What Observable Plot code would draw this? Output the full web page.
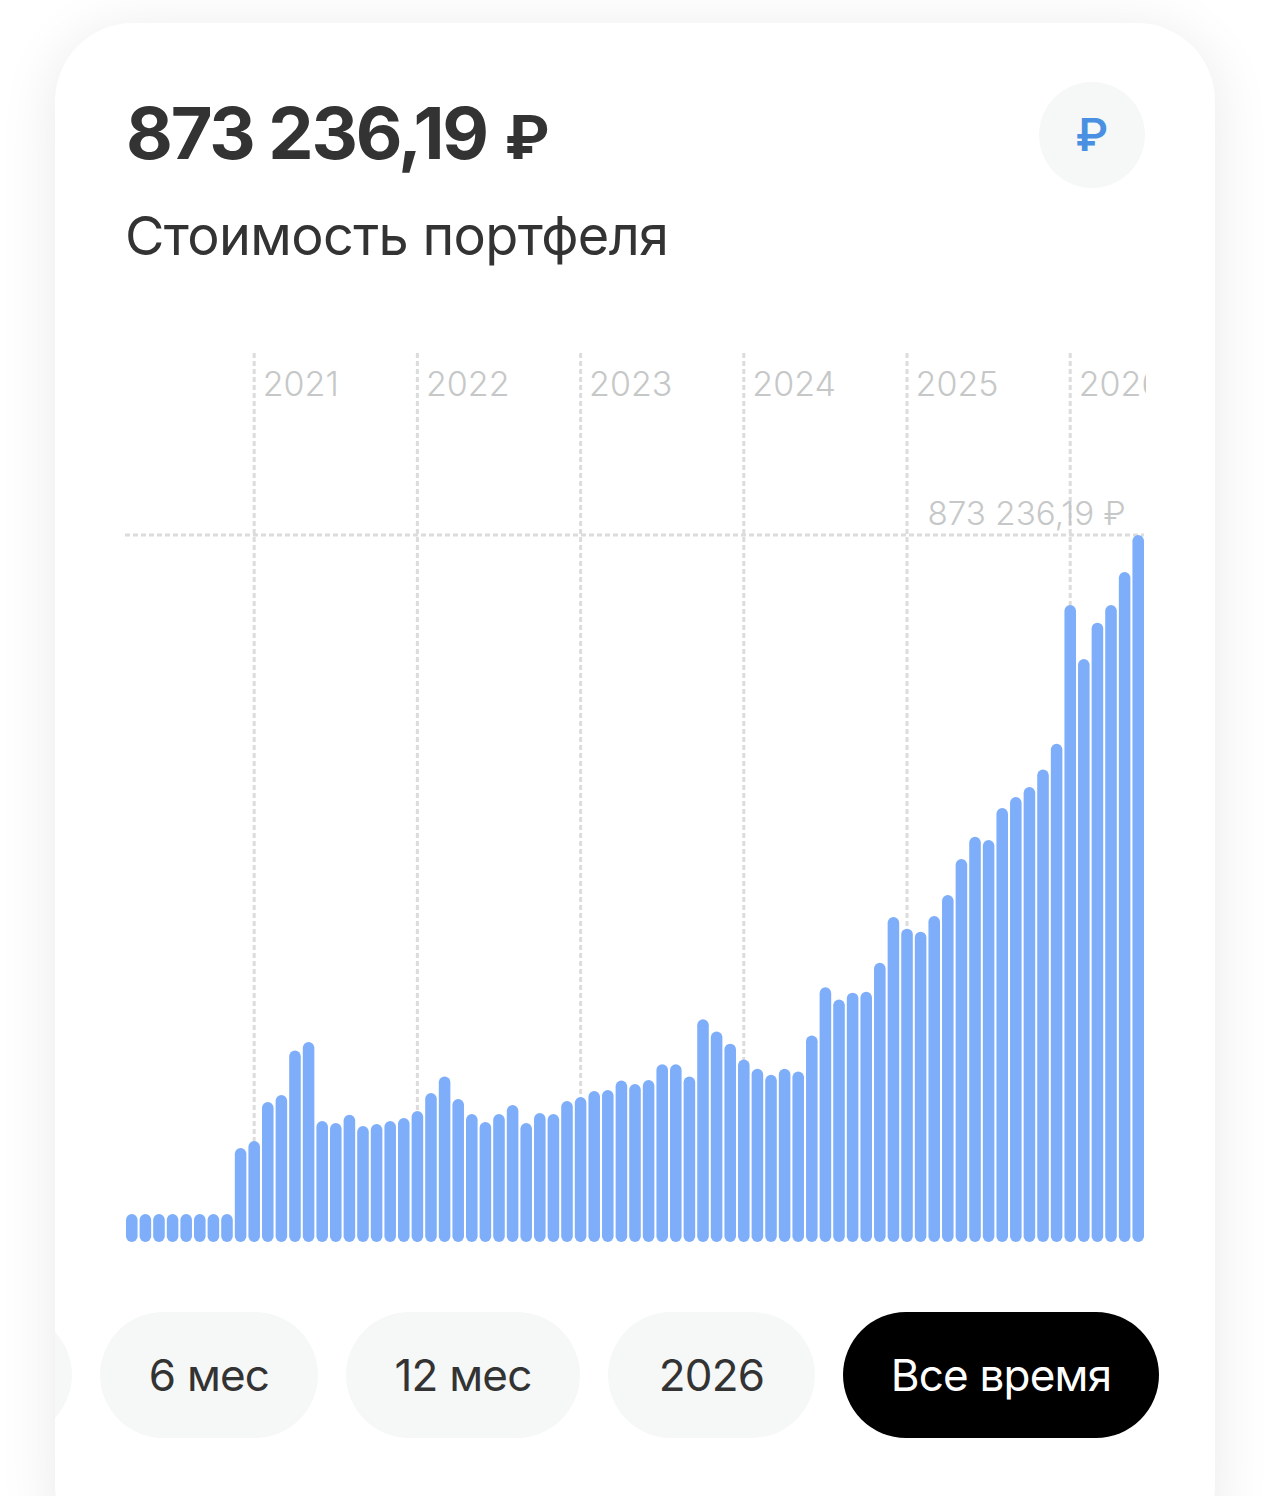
<!DOCTYPE html>
<html lang="ru">
<head>
<meta charset="utf-8">
<script src="https://cdn.jsdelivr.net/npm/d3@7"></script>
<script src="https://cdn.jsdelivr.net/npm/@observablehq/plot@0.6"></script>
<style>
html,body{margin:0;padding:0;background:#fff;}
body{width:1270px;height:1496px;overflow:hidden;position:relative;font-family:Inter,"Noto Sans",sans-serif;}
#card{position:absolute;left:55px;top:23px;width:1160px;height:1540px;background:#fff;border-radius:78px;box-shadow:0 8px 60px rgba(0,0,0,.09);overflow:hidden;}
.abs{position:absolute;white-space:nowrap;}
#total{left:71px;top:68px;font-size:72px;font-weight:700;color:#333;letter-spacing:-2.2px;line-height:84px;}
#total span{font-family:Roboto,Inter,sans-serif;font-size:62px;margin-left:4px;}
#sub{left:70px;top:181px;font-size:54px;font-weight:400;color:#333;letter-spacing:-.67px;line-height:64px;}
#cur{left:984px;top:59px;width:106px;height:106px;border-radius:53px;background:#f6f8f7;color:#4a90e2;font-family:Roboto,Inter,sans-serif;font-size:46px;font-weight:500;display:flex;align-items:center;justify-content:center;}
.pill{top:1289px;height:126px;border-radius:63px;background:#f6f8f7;color:#333;font-size:44px;display:flex;align-items:center;justify-content:center;letter-spacing:-.8px;}
.pill.on{background:#000;color:#fff;}
#chart{position:absolute;left:0;top:340px;}
#chart svg{display:block;}
</style>
</head>
<body>
<div id="card">
  <div class="abs" id="total"></div>
  <div class="abs" id="sub"></div>
  <div class="abs" id="cur"></div>
  <div id="pills"></div>
</div>
<div id="chart"></div>
<script>
const months = [
"2020-04","2020-05","2020-06","2020-07","2020-08","2020-09","2020-10","2020-11","2020-12",
"2021-01","2021-02","2021-03","2021-04","2021-05","2021-06","2021-07","2021-08","2021-09","2021-10","2021-11","2021-12",
"2022-01","2022-02","2022-03","2022-04","2022-05","2022-06","2022-07","2022-08","2022-09","2022-10","2022-11","2022-12",
"2023-01","2023-02","2023-03","2023-04","2023-05","2023-06","2023-07","2023-08","2023-09","2023-10","2023-11","2023-12",
"2024-01","2024-02","2024-03","2024-04","2024-05","2024-06","2024-07","2024-08","2024-09","2024-10","2024-11","2024-12",
"2025-01","2025-02","2025-03","2025-04","2025-05","2025-06","2025-07","2025-08","2025-09","2025-10","2025-11","2025-12",
"2026-01","2026-02","2026-03","2026-04","2026-05","2026-06"];
const values = [
34600,34600,34600,34600,34600,34600,34600,34600,116100,
124700,172900,181500,236500,247000,149400,147000,157200,143300,145700,149400,153100,
161800,184000,204500,176600,158100,148200,158100,169200,147000,159300,158100,174100,
179100,186500,187700,199500,195100,200100,219500,219500,204500,275000,260000,245000,
225500,214000,206500,214000,210500,255000,314500,299500,308000,309000,345000,401400,
387000,383300,402600,428500,473000,500500,496500,536000,549600,561900,583500,615400,
786700,720000,765000,786700,827500,873236.19];
const yearTicks = ["2021-01","2022-01","2023-01","2024-01","2025-01","2026-01"];
const yearLabels = ["2021","2022","2023","2024","2025","2026"];
const totalNumber = "873 236,19";
const currency = "₽";
const totalLabel = totalNumber + " " + currency;
const subtitle = "Стоимость портфеля";
const pills = [
  {label:"",left:-178,width:195,on:false},
  {label:"6 мес",left:45,width:218,on:false},
  {label:"12 мес",left:291,width:234,on:false},
  {label:"2026",left:553,width:207,on:false},
  {label:"Все время",left:788,width:316,on:true}
];

const totalEl = document.getElementById("total");
totalEl.textContent = totalNumber + " ";
const curSpan = document.createElement("span");
curSpan.textContent = currency;
totalEl.appendChild(curSpan);
document.getElementById("sub").textContent = subtitle;
document.getElementById("cur").textContent = currency;
const pillsEl = document.getElementById("pills");
for (const p of pills) {
  const d = document.createElement("div");
  d.className = "abs pill" + (p.on ? " on" : "");
  d.style.left = p.left + "px";
  d.style.width = p.width + "px";
  d.textContent = p.label;
  pillsEl.appendChild(d);
}

const table = months.map((month, i) => ({month, value: values[i]}));
const maxValue = d3.max(values);
const lastMonth = months[months.length - 1];
const gridColor = "#dcdcdc";
const labelColor = "#c6c8c8";
const chart = Plot.plot({
  width: 1146,
  height: 902,
  marginTop: 13,
  marginBottom: 0,
  marginLeft: 125,
  marginRight: 2,
  style: {background: "transparent", fontFamily: "Inter, sans-serif", overflow: "hidden"},
  x: {type: "band", domain: months, range: [126, 1144], paddingInner: 0.15, paddingOuter: 0, round: false, axis: null},
  y: {domain: [0, maxValue], range: [902, 195], axis: null},
  marks: [
    Plot.ruleX(yearTicks, {x: d => d, dx: -0.5, stroke: gridColor, strokeWidth: 3, strokeDasharray: "5 3"}),
    Plot.ruleY([maxValue], {dy: -0.5, stroke: gridColor, strokeWidth: 3, strokeDasharray: "5 3"}),
    Plot.barY(table, {x: "month", y: "value", fill: "#7eaef9", rx: 5.8, ry: 5.8}),
    Plot.text(yearLabels, {x: (d, i) => yearTicks[i], text: d => d, frameAnchor: "top", dy: 18, dx: 8,
      textAnchor: "start", fill: labelColor, fontSize: 34, fontWeight: 300}),
    Plot.text([totalLabel], {x: () => lastMonth, y: () => maxValue, text: d => d, dx: -13, dy: -21,
      textAnchor: "end", fill: labelColor, fontSize: 33.2, fontWeight: 300})
  ]
});
document.getElementById("chart").appendChild(chart);
</script>
</body>
</html>
